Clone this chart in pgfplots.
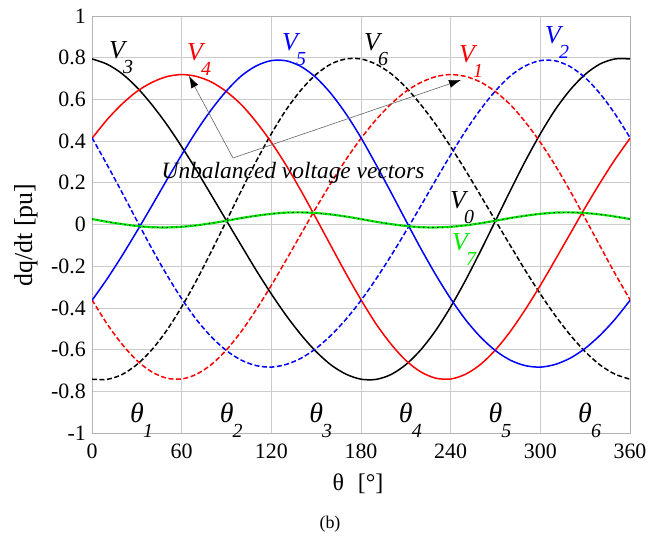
\documentclass[border=0pt]{standalone}
\usepackage{fontspec}
\setmainfont{Liberation Serif}
\usepackage{pgfplots}
\pgfplotsset{compat=1.18}
\usepackage{pgfplotstable}
\usetikzlibrary{arrows.meta}

\definecolor{vred}{RGB}{255,0,0}
\definecolor{vblue}{RGB}{0,0,255}
\definecolor{vgreen}{RGB}{0,235,0}

% theta  V0  V3  V6  V4  V1  V5  V2
\pgfplotstableread{
th   v0     v3     v6     v4     v1     v5     v2
0    0.026  0.794 -0.742  0.413 -0.361 -0.364  0.416
10   0.013  0.769 -0.743  0.502 -0.476 -0.262  0.288
20   0.002  0.724 -0.720  0.577 -0.573 -0.151  0.155
30  -0.007  0.658 -0.672  0.638 -0.652 -0.033  0.019
40  -0.013  0.575 -0.601  0.681 -0.707  0.089 -0.115
50  -0.014  0.480 -0.508  0.709 -0.737  0.213 -0.241
60  -0.011  0.373 -0.395  0.719 -0.741  0.334 -0.356
70  -0.004  0.259 -0.267  0.710 -0.718  0.449 -0.457
80   0.006  0.139 -0.127  0.683 -0.671  0.552 -0.540
90   0.018  0.018  0.018  0.637 -0.601  0.641 -0.605
100  0.031 -0.102  0.164  0.574 -0.512  0.713 -0.651
110  0.042 -0.221  0.305  0.491 -0.407  0.761 -0.677
120  0.051 -0.333  0.435  0.394 -0.292  0.786 -0.684
130  0.057 -0.437  0.551  0.283 -0.169  0.785 -0.671
140  0.058 -0.530  0.646  0.160 -0.044  0.757 -0.641
150  0.055 -0.610  0.720  0.029  0.081  0.704 -0.594
160  0.048 -0.674  0.770 -0.104  0.200  0.627 -0.531
170  0.038 -0.718  0.794 -0.236  0.312  0.530 -0.454
180  0.026 -0.742  0.794 -0.361  0.413  0.416 -0.364
190  0.013 -0.743  0.769 -0.476  0.502  0.288 -0.262
200  0.002 -0.720  0.724 -0.573  0.577  0.155 -0.151
210 -0.007 -0.672  0.658 -0.652  0.638  0.019 -0.033
220 -0.013 -0.601  0.575 -0.707  0.681 -0.115  0.089
230 -0.014 -0.508  0.480 -0.737  0.709 -0.241  0.213
240 -0.011 -0.395  0.373 -0.741  0.719 -0.356  0.334
250 -0.004 -0.267  0.259 -0.718  0.710 -0.457  0.449
260  0.006 -0.127  0.139 -0.671  0.683 -0.540  0.552
270  0.018  0.018  0.018 -0.601  0.637 -0.605  0.641
280  0.031  0.164 -0.102 -0.512  0.574 -0.651  0.713
290  0.042  0.305 -0.221 -0.407  0.491 -0.677  0.761
300  0.051  0.435 -0.333 -0.292  0.394 -0.684  0.786
310  0.057  0.551 -0.437 -0.169  0.283 -0.671  0.785
320  0.058  0.646 -0.530 -0.044  0.160 -0.641  0.757
330  0.055  0.720 -0.610  0.081  0.029 -0.594  0.704
340  0.048  0.770 -0.674  0.200 -0.104 -0.531  0.627
350  0.038  0.794 -0.718  0.312 -0.236 -0.454  0.530
360  0.026  0.794 -0.742  0.413 -0.361 -0.364  0.416
}\vdata

\tikzset{
  solidc/.style={line width=1.5bp, smooth},
  dashc/.style={line width=1.5bp, smooth, dash pattern=on 5bp off 2.5bp},
}

% V_k style label: italic letter with a dropped italic index
\newcommand{\vlab}[5]{%
  \node[#1, font=\fontsize{26}{28}\selectfont\itshape, inner sep=0pt] at (#2,540-#3) {#4};
  \node[#1, font=\fontsize{20}{22}\selectfont\itshape, inner sep=0pt] at (#2+11,540-#3-17) {#5};
}

\begin{document}
\begin{tikzpicture}[x=1bp,y=1bp]
\path[use as bounding box] (0,0) rectangle (665,540);
\begin{axis}[
  at={(92bp,107bp)}, anchor=south west,
  scale only axis, width=538bp, height=417bp,
  xmin=0, xmax=360, ymin=-1, ymax=1,
  xtick={0,60,120,180,240,300,360},
  xticklabels={0,60,120,180,240,300,360},
  ytick={-1,-0.8,-0.6,-0.4,-0.2,0,0.2,0.4,0.6,0.8,1},
  yticklabels={-1,-0.8,-0.6,-0.4,-0.2,0,0.2,0.4,0.6,0.8,1},
  grid=major,
  grid style={line width=0.6bp, gray!40},
  axis line style={line width=0.8bp, gray!60},
  major tick length=0pt,
  tick label style={font=\fontsize{22}{24}\selectfont, text=black, inner sep=0pt},
  yticklabel style={anchor=east, xshift=-6bp},
  xticklabel style={anchor=north, yshift=-11bp},
  clip=true,
]
\addplot[solidc, black] table[x=th, y=v3] {\vdata};
\addplot[dashc, black] table[x=th, y=v6] {\vdata};
\addplot[solidc, vred] table[x=th, y=v4] {\vdata};
\addplot[dashc, vred] table[x=th, y=v1] {\vdata};
\addplot[solidc, vblue] table[x=th, y=v5] {\vdata};
\addplot[dashc, vblue] table[x=th, y=v2] {\vdata};
\addplot[line width=2.2bp, smooth, vgreen] table[x=th, y=v0] {\vdata};
\addplot[line width=0.9bp, smooth, black, dash pattern=on 1.2bp off 3.5bp] table[x=th, y=v0] {\vdata};
\end{axis}

% axis titles and caption
\node[rotate=90, font=\fontsize{26}{28}\selectfont] at (26,540-235) {dq/dt [pu]};
\node[font=\fontsize{24}{26}\selectfont] at (358,540-484) {θ\,\, [°]};
\node[font=\fontsize{18}{20}\selectfont] at (330,540-524) {(b)};

% vector labels
\vlab{black}{117}{50}{V}{3}
\vlab{vred}{195}{52}{V}{4}
\vlab{vblue}{290}{42}{V}{5}
\vlab{black}{372}{42}{V}{6}
\vlab{vred}{467}{54}{V}{1}
\vlab{vblue}{553}{35}{V}{2}
\vlab{black}{458}{200}{V}{0}
\vlab{vgreen}{460}{242}{V}{7}

% sector angles
\foreach \k [count=\i from 0] in {1,...,6} {
  \node[font=\fontsize{28}{30}\selectfont\itshape, inner sep=0pt] at (137+89.6*\i,540-413) {θ};
  \node[font=\fontsize{20}{22}\selectfont\itshape, inner sep=0pt] at (148+89.6*\i,540-431) {\k};
}

% annotation
\node[font=\fontsize{23.5}{25}\selectfont\itshape, inner sep=0pt] at (293,540-173) {Unbalanced voltage vectors};
\draw[gray!80!black, line width=0.6bp, -{Latex[black, length=12bp, width=8bp]}] (233,540-158) -- (189,540-76);
\draw[gray!80!black, line width=0.6bp, -{Latex[black, length=12bp, width=8bp]}] (233,540-158) -- (461,540-80);
\end{tikzpicture}
\end{document}
